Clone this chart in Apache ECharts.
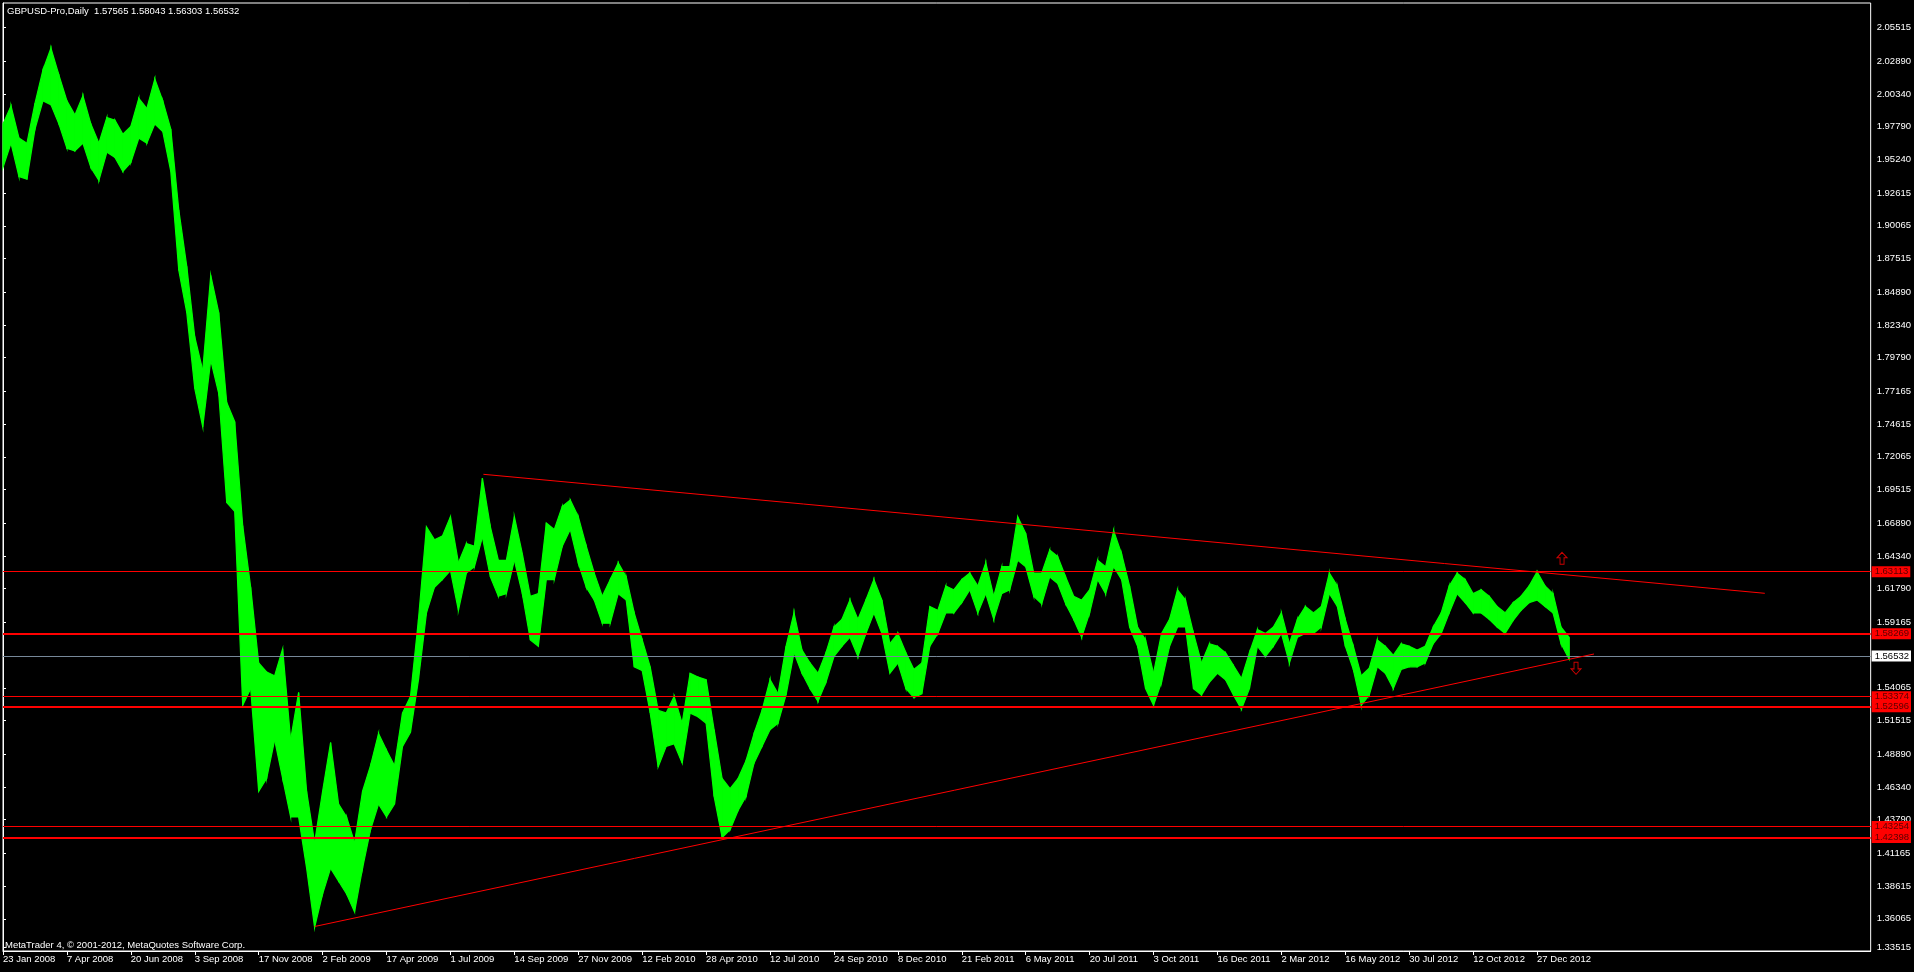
<!DOCTYPE html>
<html><head><meta charset="utf-8">
<script src="https://cdn.jsdelivr.net/npm/echarts@6/dist/echarts.min.js"></script>
<style>html,body{margin:0;padding:0;background:#000;}#c{width:1914px;height:972px;}</style>
</head><body><div id="c"></div>
<script>
// ---- data (bar index spacing between samples) ----
const STEP = 8;
const lows = [
1.946,1.965,1.939,1.937,1.976,1.998,1.995,1.980,1.961,1.959,1.965,1.946,1.936,1.958,1.954,1.943,1.950,1.969,1.965,1.980,
1.974,1.943,1.866,1.833,1.774,1.744,1.796,1.770,1.685,1.678,1.527,1.540,1.460,1.470,1.500,1.470,1.440,1.440,1.400,1.354,
1.380,1.400,1.390,1.380,1.366,1.400,1.430,1.450,1.440,1.450,1.495,1.506,1.547,1.599,1.619,1.625,1.632,1.601,1.630,1.635,
1.658,1.627,1.612,1.614,1.640,1.614,1.578,1.573,1.625,1.625,1.651,1.664,1.638,1.619,1.609,1.591,1.591,1.614,1.609,1.557,
1.554,1.521,1.479,1.495,1.497,1.482,1.521,1.518,1.513,1.456,1.424,1.430,1.445,1.456,1.482,1.495,1.508,1.513,1.535,1.568,
1.552,1.540,1.530,1.545,1.565,1.573,1.580,1.565,1.583,1.599,1.583,1.552,1.560,1.540,1.533,1.536,1.573,1.583,1.599,1.599,
1.607,1.617,1.599,1.614,1.594,1.614,1.617,1.640,1.635,1.612,1.606,1.627,1.622,1.606,1.594,1.580,1.599,1.625,1.614,1.635,
1.625,1.588,1.573,1.540,1.527,1.545,1.573,1.588,1.588,1.540,1.535,1.545,1.552,1.547,1.535,1.524,1.540,1.573,1.565,1.573,
1.583,1.560,1.580,1.583,1.583,1.588,1.614,1.604,1.573,1.555,1.527,1.535,1.557,1.552,1.540,1.555,1.557,1.557,1.560,1.575,
1.583,1.599,1.614,1.607,1.599,1.599,1.594,1.588,1.583,1.593,1.601,1.607,1.609,1.604,1.599,1.575,1.563
];
const highs = [
1.980,1.994,1.969,1.965,1.996,2.022,2.039,2.018,1.998,1.987,2.002,1.980,1.965,1.985,1.983,1.972,1.978,2.000,1.992,2.015,
1.998,1.976,1.913,1.869,1.814,1.788,1.862,1.833,1.763,1.748,1.667,1.619,1.560,1.553,1.550,1.571,1.500,1.537,1.460,1.420,
1.460,1.498,1.450,1.440,1.420,1.460,1.480,1.505,1.492,1.480,1.521,1.534,1.594,1.666,1.656,1.659,1.674,1.638,1.653,1.651,
1.704,1.666,1.640,1.640,1.674,1.645,1.612,1.614,1.669,1.664,1.682,1.687,1.674,1.651,1.630,1.612,1.625,1.638,1.627,1.599,
1.578,1.557,1.523,1.521,1.534,1.513,1.552,1.549,1.547,1.508,1.470,1.462,1.470,1.484,1.505,1.523,1.547,1.536,1.573,1.599,
1.570,1.560,1.552,1.568,1.588,1.594,1.609,1.594,1.609,1.625,1.609,1.575,1.583,1.568,1.555,1.560,1.604,1.601,1.620,1.617,
1.625,1.630,1.620,1.638,1.612,1.635,1.635,1.674,1.661,1.630,1.630,1.648,1.643,1.627,1.612,1.609,1.617,1.640,1.635,1.663,
1.645,1.620,1.588,1.578,1.552,1.583,1.594,1.617,1.609,1.583,1.560,1.575,1.573,1.568,1.558,1.548,1.568,1.586,1.583,1.588,
1.599,1.575,1.594,1.604,1.599,1.604,1.630,1.620,1.594,1.573,1.550,1.556,1.578,1.573,1.566,1.575,1.573,1.570,1.573,1.588,
1.599,1.620,1.630,1.625,1.614,1.617,1.612,1.604,1.599,1.607,1.612,1.620,1.631,1.620,1.614,1.588,1.580
];
const dateLabels = ['23 Jan 2008','7 Apr 2008','20 Jun 2008','3 Sep 2008','17 Nov 2008','2 Feb 2009','17 Apr 2009','1 Jul 2009',
  '14 Sep 2009','27 Nov 2009','12 Feb 2010','28 Apr 2010','12 Jul 2010','24 Sep 2010','8 Dec 2010','21 Feb 2011','6 May 2011',
  '20 Jul 2011','3 Oct 2011','16 Dec 2011','2 Mar 2012','16 May 2012','30 Jul 2012','12 Oct 2012','27 Dec 2012'];
const BARS_PER_LABEL = 64;
const priceTicks = [2.05515,2.02890,2.00340,1.97790,1.95240,1.92615,1.90065,1.87515,1.84890,1.82340,1.79790,1.77165,
  1.74615,1.72065,1.69515,1.66890,1.64340,1.61790,1.59165,1.54065,1.51515,1.48890,1.46340,1.43790,1.41165,1.38615,1.36065,1.33515];
const levelPrices = [1.63113,1.58269,1.53374,1.52596,1.43254,1.42398];
const bidPrice = 1.56532;
const upperTrend = [[481,1.70700],[1764,1.61427]];
const lowerTrend = [[312,1.35463],[1593,1.56697]];
const upArrows = [[1561,1.64155]];
const downArrows = [[1575,1.55583]];
const titleText = 'GBPUSD-Pro,Daily  1.57565 1.58043 1.56303 1.56532';
const footerText = 'MetaTrader 4, \u00A9 2001-2012, MetaQuotes Software Corp.';

// ---- styles / layout ----
const FONT = 'Liberation Sans';
const FS = 9.5;
const LEVEL_WIDTHS = [1,2,1,2,1,2];
const GREEN = '#00ff00', RED = '#ff0000';
const Y_MIN = 1.33554, Y_MAX = 2.07426;
const LABEL_CLAMP = 0.0031; // MT4 keeps the lowest price label inside the frame

const chart = echarts.init(document.getElementById('c'), null, {renderer:'canvas'});
const barData = lows.map((lo,i)=>[i*STEP, lo, highs[i]]);
const tickBars = dateLabels.map((_,k)=>k*BARS_PER_LABEL);
const priceTickPos = priceTicks.map(p=>Math.max(p, Y_MIN + LABEL_CLAMP));

const levelMarks = levelPrices.map((p,i)=>({
  yAxis: p,
  lineStyle: {color: RED, width: LEVEL_WIDTHS[i], type: 'solid'},
  label: {show:true, position:'end', distance:1, formatter: ()=>p.toFixed(5),
    backgroundColor: RED, color: '#5a0000', fontFamily: FONT, fontSize: FS, padding:[1,2,0,3], lineHeight: 10}
}));
levelMarks.push({
  yAxis: bidPrice,
  lineStyle: {color: '#778899', width: 1, type: 'solid'},
  label: {show:true, position:'end', distance:1, formatter: ()=>bidPrice.toFixed(5),
    backgroundColor: '#ffffff', color: '#000000', fontFamily: FONT, fontSize: FS, padding:[1,2,0,3], lineHeight: 10}
});
const trendMarks = [upperTrend, lowerTrend].map(t=>[
  {coord: t[0], lineStyle:{color:RED, width:1, type:'solid'}, label:{show:false}},
  {coord: t[1]}
]);

const option = {
  backgroundColor: '#000',
  animation: false,
  title: [
    {text: titleText, left: 7, top: 6, padding: 0, textStyle:{color:'#ffffff', fontFamily:FONT, fontSize:FS, fontWeight:'normal'}},
    {text: footerText, left: 5, top: 940, padding: 0, textStyle:{color:'#ffffff', fontFamily:FONT, fontSize:FS, fontWeight:'normal'}}
  ],
  grid: {left: 3, right: 41, top: 3, bottom: 21, show: true, borderColor: '#ffffff', borderWidth: 1, backgroundColor: '#000'},
  xAxis: {
    type: 'value', min: 0, max: 1870,
    axisLine: {show: true, lineStyle: {color: '#ffffff', width: 1}},
    axisTick: {show: true, length: 4, inside: false, customValues: tickBars, lineStyle: {color: '#ffffff'}},
    axisLabel: {show: true, customValues: tickBars, formatter: (v)=>dateLabels[Math.round(v/BARS_PER_LABEL)],
      align: 'left', color: '#ffffff', fontFamily: FONT, fontSize: FS, margin: 3, hideOverlap: false},
    splitLine: {show: false}
  },
  yAxis: {
    type: 'value', position: 'right', min: Y_MIN, max: Y_MAX, scale: true,
    axisLine: {show: true, lineStyle: {color: '#ffffff', width: 1}},
    axisTick: {show: true, length: 3, inside: false, customValues: priceTickPos, lineStyle: {color: '#ffffff'}},
    axisLabel: {show: true, customValues: priceTickPos,
      formatter: (v)=>{ let best = 0; priceTickPos.forEach((q,i)=>{ if (Math.abs(q-v) < Math.abs(priceTickPos[best]-v)) best = i; }); return priceTicks[best].toFixed(5); },
      color: '#ffffff', fontFamily: FONT, fontSize: FS, margin: 6, hideOverlap: false},
    splitLine: {show: false}
  },
  series: [
    {
      type: 'custom', z: 2, silent: true,
      data: barData,
      encode: {x: 0, y: [1, 2]},
      renderItem: function(params, api){
        const i = params.dataIndex;
        const j = Math.min(i + 1, lows.length - 1);
        const a = api.coord([i*STEP, highs[i]]);
        const b = api.coord([j*STEP, highs[j]]);
        const c = api.coord([j*STEP, lows[j]]);
        const d = api.coord([i*STEP, lows[i]]);
        return {type: 'polygon', shape: {points: [a, b, c, d]},
          style: {fill: GREEN, stroke: GREEN, lineWidth: 1.2}};
      }
    },
    {
      type: 'line', z: 5, data: [], silent: true,
      markLine: {symbol: ['none','none'], silent: true, animation: false, precision: 5, data: levelMarks.concat(trendMarks)}
    },
    {
      type: 'scatter', z: 6, silent: true, data: upArrows,
      symbol: 'path://M5,0L10,5L7,5L7,11L3,11L3,5L0,5Z', symbolSize: [10, 12],
      itemStyle: {color: '#000', borderColor: RED, borderWidth: 1}
    },
    {
      type: 'scatter', z: 6, silent: true, data: downArrows,
      symbol: 'path://M3,0L7,0L7,6L10,6L5,11L0,6L3,6Z', symbolSize: [10, 12],
      itemStyle: {color: '#000', borderColor: RED, borderWidth: 1}
    }
  ]
};
chart.setOption(option);
</script></body></html>
